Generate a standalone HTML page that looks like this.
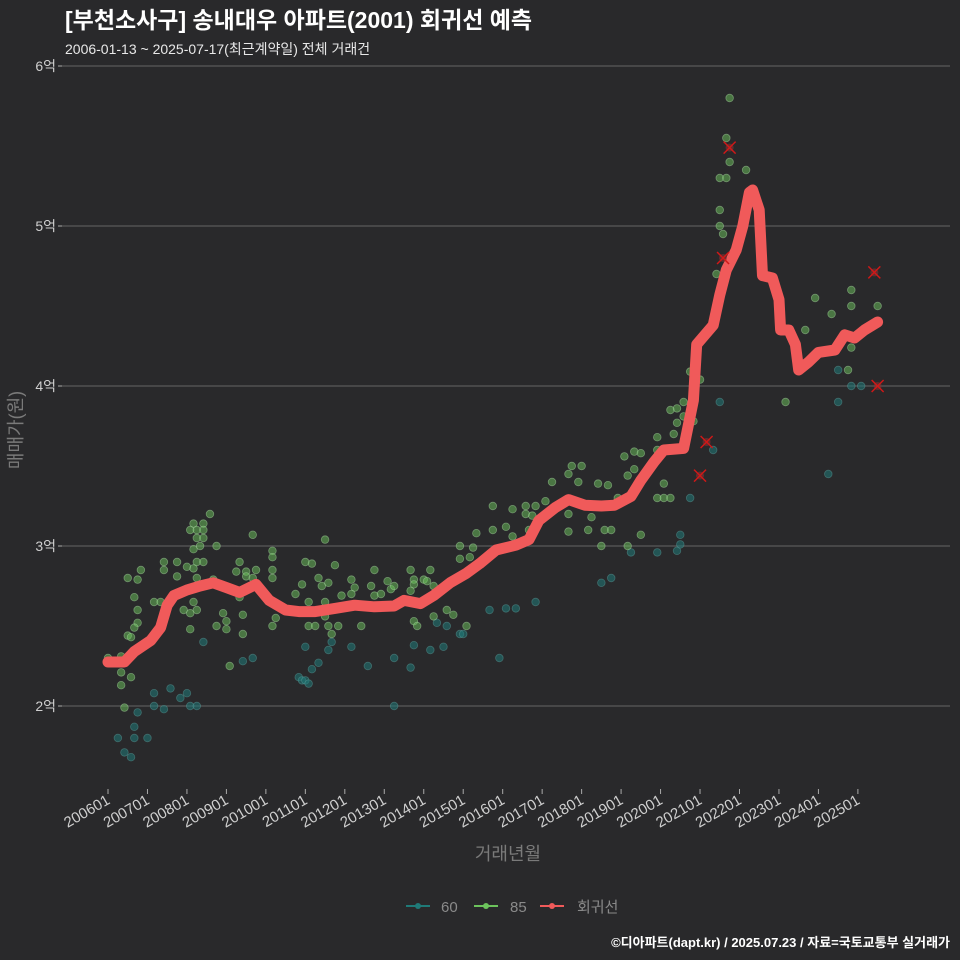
<!DOCTYPE html>
<html><head><meta charset="utf-8"><style>
html,body{margin:0;padding:0;background:#29292b;}
svg{display:block;font-family:"Liberation Sans","Noto Sans CJK KR",sans-serif;}
</style></head><body>
<svg id="chart" width="960" height="960" viewBox="0 0 960 960">
<rect x="0" y="0" width="960" height="960" fill="#29292b"/>
<text x="65" y="28" fill="#ffffff" font-size="23" font-weight="bold">[부천소사구] 송내대우 아파트(2001) 회귀선 예측</text>
<text x="65" y="54" fill="#e8e8e8" font-size="14">2006-01-13 ~ 2025-07-17(최근계약일) 전체 거래건</text>
<g id="grid"></g>
<g id="yaxis"></g>
<g id="xaxis"></g>
<g id="pts"></g>
<g id="reg"></g>
<g id="outl"></g>
<text transform="translate(22,430) rotate(-90)" text-anchor="middle" fill="#7a7a7a" font-size="18">매매가(원)</text>
<text x="508" y="860" text-anchor="middle" fill="#7a7a7a" font-size="18">거래년월</text>
<g>
<g><line x1="406" y1="906" x2="430" y2="906" stroke="#1f7a78" stroke-width="2"/><circle cx="418" cy="906" r="3" fill="#1f7a78"/><text x="441" y="912" fill="#8a8a8a" font-size="15">60</text></g>
<g><line x1="474" y1="906" x2="498" y2="906" stroke="#6cc35c" stroke-width="2"/><circle cx="486" cy="906" r="3" fill="#6cc35c"/><text x="510" y="912" fill="#8a8a8a" font-size="15">85</text></g>
<g><line x1="540" y1="906" x2="564" y2="906" stroke="#f05a5a" stroke-width="2"/><circle cx="552" cy="906" r="3" fill="#f05a5a"/><text x="577" y="912" fill="#8a8a8a" font-size="15">회귀선</text></g>
</g>
<text x="950" y="947" text-anchor="end" fill="#ffffff" font-size="13" font-weight="bold">©디아파트(dapt.kr) / 2025.07.23 / 자료=국토교통부 실거래가</text>
</svg>
<script>
// months since 2006-01, prices in 억
const yTicks=[2,3,4,5,6];
const yTickLabels=["2억","3억","4억","5억","6억"];
const xTickMonths=[0,12,24,36,48,60,72,84,96,108,120,132,144,156,168,180,192,204,216,228];
const xTickLabels=["200601","200701","200801","200901","201001","201101","201201","201301","201401","201501","201601","201701","201801","201901","202001","202101","202201","202301","202401","202501"];
const m60=[3,5,7,8,8,9,12,14,14,17,19,22,24,25,27,29,41,44,58,59,60,61,62,64,60,68,67,74,79,87,87,92,93,98,100,102,103,107,108,116,119,121,124,130,150,153,159,167,173,174,174,177,184,186,219,222,222,226,229];
const p60=[1.80,1.71,1.68,1.87,1.80,1.96,1.80,2.08,2.00,1.98,2.11,2.05,2.08,2.00,2.00,2.40,2.28,2.30,2.18,2.16,2.16,2.14,2.23,2.27,2.37,2.40,2.35,2.37,2.25,2.00,2.30,2.24,2.38,2.35,2.52,2.37,2.50,2.45,2.45,2.60,2.30,2.61,2.61,2.65,2.77,2.80,2.96,2.96,2.97,3.01,3.07,3.30,3.60,3.90,3.45,4.10,3.90,4.00,4.00];
const m85=[0,4,4,4,5,6,7,6,9,10,8,9,9,8,8,7,14,16,17,17,21,21,24,23,25,25,26,25,27,29,29,27,29,26,28,31,33,27,29,26,27,26,27,32,35,33,36,36,37,40,39,42,42,45,44,44,41,41,40,50,50,50,50,51,50,57,59,60,62,64,65,67,66,69,66,61,61,63,67,70,68,66,71,74,75,74,77,80,81,81,83,85,86,87,92,93,93,92,96,98,97,99,93,94,99,103,105,109,107,107,110,111,112,117,123,127,130,127,129,121,117,123,128,133,135,140,141,144,143,140,140,146,147,149,152,151,153,150,155,157,158,160,162,160,158,162,167,167,169,167,169,171,171,173,175,175,173,172,178,177,180,186,186,187,186,188,188,189,189,194,185,212,215,220,226,226,234,206,225,226];
const p85=[2.30,2.31,2.21,2.13,1.99,2.44,2.43,2.80,2.79,2.85,2.68,2.60,2.52,2.49,2.34,2.18,2.65,2.65,2.90,2.85,2.90,2.81,2.87,2.60,2.58,2.48,3.14,3.10,3.10,3.14,3.10,3.05,3.05,2.98,3.00,3.20,3.00,2.90,2.90,2.86,2.80,2.65,2.60,2.79,2.58,2.50,2.53,2.48,2.25,2.90,2.84,2.84,2.81,2.85,2.80,3.07,2.57,2.45,2.68,2.97,2.93,2.85,2.80,2.55,2.50,2.70,2.76,2.90,2.89,2.80,2.75,2.77,3.04,2.88,2.65,2.65,2.50,2.50,2.50,2.50,2.45,2.56,2.69,2.79,2.74,2.70,2.50,2.75,2.85,2.69,2.70,2.78,2.73,2.75,2.85,2.79,2.76,2.72,2.79,2.85,2.78,2.75,2.53,2.50,2.56,2.60,2.57,2.50,3.00,2.92,2.93,2.99,3.08,3.25,3.23,3.25,3.25,3.20,3.19,3.12,3.10,3.06,3.10,3.28,3.40,3.45,3.50,3.50,3.40,3.20,3.09,3.10,3.18,3.39,3.38,3.10,3.10,3.00,3.30,3.56,3.44,3.59,3.58,3.48,3.00,3.07,3.68,3.60,3.39,3.30,3.30,3.30,3.85,3.86,3.90,3.81,3.77,3.70,3.78,4.09,4.04,5.10,5.00,4.95,5.30,5.30,5.55,5.40,5.80,5.35,4.70,4.35,4.55,4.45,4.60,4.50,4.50,3.90,4.10,4.24];
const regM=[0,5,8,13,16,18,20,24,28,32,36,40,45,49,54,58,63,69,75,81,87,90,95,99,104,109,113,118,124,128,131,136,140,145,150,154,159,162,166,169,175,178,179,184,186,188,191,193,195,196,198,199,202,204,204.5,207,209,210,213,216,221,224,227,230,234];
const regP=[2.275,2.275,2.34,2.41,2.49,2.63,2.69,2.725,2.75,2.77,2.74,2.71,2.76,2.66,2.60,2.59,2.59,2.61,2.63,2.62,2.625,2.66,2.64,2.69,2.77,2.83,2.89,2.975,3.005,3.04,3.16,3.24,3.29,3.255,3.25,3.255,3.31,3.41,3.525,3.60,3.61,3.91,4.26,4.38,4.57,4.725,4.85,5.00,5.21,5.225,5.10,4.69,4.675,4.54,4.35,4.35,4.26,4.10,4.15,4.21,4.225,4.32,4.30,4.35,4.40];
const outM=[189,187,180,182,233,234];
const outP=[5.49,4.80,3.44,3.65,4.71,4.00];

const NS="http://www.w3.org/2000/svg";
const X0=108,XS=3.289,Y0=706,YS=160;
function xs(m){return X0+m*XS;}
function ys(p){return Y0-(p-2)*YS;}
function mk(tag,attrs,parent){const e=document.createElementNS(NS,tag);for(const k in attrs)e.setAttribute(k,attrs[k]);parent.appendChild(e);return e;}
const grid=document.getElementById('grid'),ya=document.getElementById('yaxis'),xa=document.getElementById('xaxis');
yTicks.forEach((v,i)=>{
  const l=mk('line',{x1:62,x2:950,y1:ys(v),y2:ys(v),stroke:'#7a7a7a','stroke-width':0.8},grid);
  
  
  const t=mk('line',{x1:58,x2:62,y1:ys(v),y2:ys(v),stroke:'#aaa','stroke-width':1},ya);
  
  
  const tx=mk('text',{x:56,y:ys(v)+5,'text-anchor':'end',fill:'#cfcfcf','font-size':14},ya);
  tx.textContent=yTickLabels[i];
  
  
});
xTickMonths.forEach((m,i)=>{
  const x=xs(m);
  const t=mk('line',{x1:x,x2:x,y1:789,y2:794,stroke:'#aaa','stroke-width':1},xa);
  
  
  const tx=mk('text',{transform:'translate('+(x+3)+',803) rotate(-30)','text-anchor':'end',fill:'#cfcfcf','font-size':15},xa);
  tx.textContent=xTickLabels[i];
  
  
});
const pts=document.getElementById('pts');
m60.forEach((m,i)=>{
  const c=mk('circle',{cx:xs(m),cy:ys(p60[i]),r:3.8,fill:'#1f7a78','fill-opacity':0.55,stroke:'#5a9a98','stroke-opacity':0.5,'stroke-width':0.8},pts);
  
  
});
m85.forEach((m,i)=>{
  const c=mk('circle',{cx:xs(m),cy:ys(p85[i]),r:3.8,fill:'#6cc35c','fill-opacity':0.5,stroke:'#a8d8a0','stroke-opacity':0.5,'stroke-width':0.8},pts);
  
  
});
const reg=document.getElementById('reg');
const d=regM.map((m,i)=>(i?'L':'M')+xs(m).toFixed(1)+','+ys(regP[i]).toFixed(1)).join(' ');
const path=mk('path',{d:d,fill:'none',stroke:'#f05a5a','stroke-width':11,'stroke-linejoin':'round','stroke-linecap':'round'},reg);


const outl=document.getElementById('outl');
outM.forEach((m,i)=>{
  const x=xs(m),y=ys(outP[i]);
  const c=mk('circle',{cx:x,cy:y,r:4,fill:'#8a3030','fill-opacity':0.6},outl);
  
  
  const g=mk('path',{d:'M'+(x-6)+','+(y-6)+'L'+(x+6)+','+(y+6)+'M'+(x-6)+','+(y+6)+'L'+(x+6)+','+(y-6),stroke:'#d01818','stroke-width':1.5,fill:'none'},outl);
  
  
});
</script>
</body></html>
